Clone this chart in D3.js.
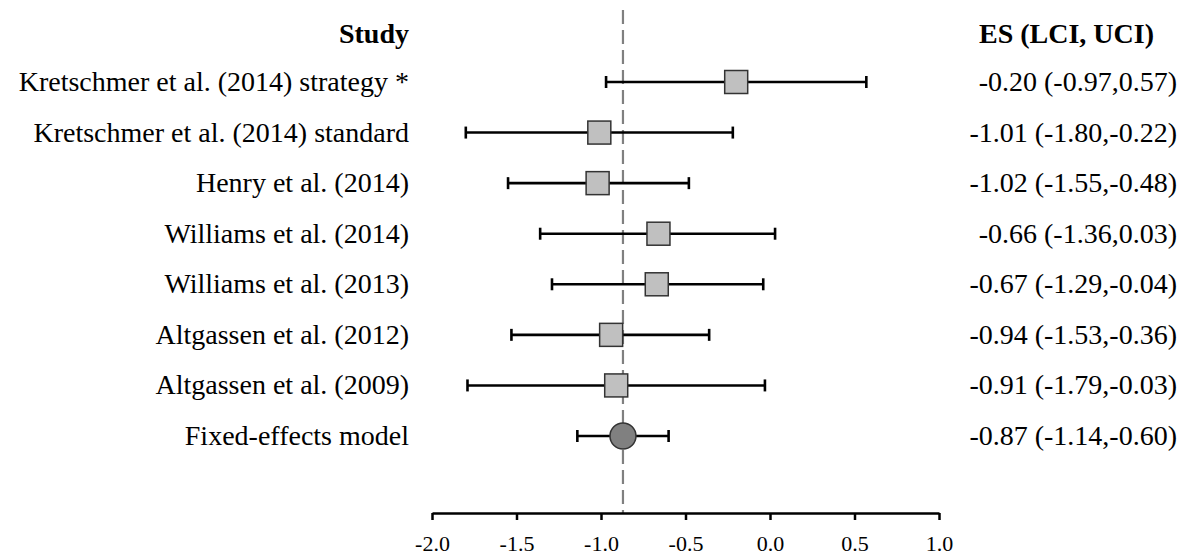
<!DOCTYPE html>
<html>
<head>
<meta charset="utf-8">
<script src="https://cdn.jsdelivr.net/npm/d3@7"></script>
<style>
  body { margin: 0; background: #fff; }
  svg { display: block; }
  text { font-family: "Liberation Serif", "Times New Roman", serif; fill: #000; }
</style>
</head>
<body>
<div id="chart"></div>
<script>
// data
const studies = [
    'Kretschmer et al. (2014) strategy *',
    'Kretschmer et al. (2014) standard',
    'Henry et al. (2014)',
    'Williams et al. (2014)',
    'Williams et al. (2013)',
    'Altgassen et al. (2012)',
    'Altgassen et al. (2009)',
    'Fixed-effects model'
];
const es = [-0.20, -1.01, -1.02, -0.66, -0.67, -0.94, -0.91, -0.87];
const lci = [-0.97, -1.80, -1.55, -1.36, -1.29, -1.53, -1.79, -1.14];
const uci = [0.57, -0.22, -0.48, 0.03, -0.04, -0.36, -0.03, -0.60];
const esLabels = [
    '-0.20 (-0.97,0.57)',
    '-1.01 (-1.80,-0.22)',
    '-1.02 (-1.55,-0.48)',
    '-0.66 (-1.36,0.03)',
    '-0.67 (-1.29,-0.04)',
    '-0.94 (-1.53,-0.36)',
    '-0.91 (-1.79,-0.03)',
    '-0.87 (-1.14,-0.60)'
];
const xTicks = [-2.0, -1.5, -1.0, -0.5, 0.0, 0.5, 1.0];
const pooledES = -0.87;

const width = 1182, height = 555;

const svg = d3.select('#chart')
    .append('svg')
    .attr('width', width)
    .attr('height', height);

const x = d3.scaleLinear().domain([-2, 1]).range([432, 939]);
const y = d3.scalePoint().domain(d3.range(studies.length)).range([82, 436]);
const axisY = 513;

// reference line at pooled estimate
svg.append('line')
    .attr('x1', x(pooledES)).attr('x2', x(pooledES))
    .attr('y1', 10).attr('y2', axisY)
    .attr('stroke', '#808080')
    .attr('stroke-width', 2.2)
    .attr('stroke-dasharray', '14,6');

// axis
const axis = d3.axisBottom(x)
    .tickValues(xTicks)
    .tickSize(7)
    .tickSizeOuter(0);
const gAxis = svg.append('g')
    .attr('transform', `translate(0,${axisY})`)
    .call(axis);
gAxis.select('.domain').attr('stroke', '#000').attr('stroke-width', 2.5);
gAxis.selectAll('.tick line').attr('stroke', '#000').attr('stroke-width', 2.5);
gAxis.selectAll('.tick text')
    .attr('y', 38)
    .attr('dy', null)
    .style('font-family', '"Liberation Serif", serif')
    .style('font-size', '22px')
    .attr('fill', '#000')
    .text((d) => d3.format('.1f')(d).replace('−', '-'));

// error bars
const rows = svg.append('g').selectAll('g')
    .data(studies.map((s, i) => i))
    .enter().append('g');

const barW = 2.6, cap = 6;
rows.append('line')
    .attr('x1', (i) => x(lci[i])).attr('x2', (i) => x(uci[i]))
    .attr('y1', (i) => y(i)).attr('y2', (i) => y(i))
    .attr('stroke', '#000').attr('stroke-width', barW);
rows.append('line')
    .attr('x1', (i) => x(lci[i])).attr('x2', (i) => x(lci[i]))
    .attr('y1', (i) => y(i) - cap).attr('y2', (i) => y(i) + cap)
    .attr('stroke', '#000').attr('stroke-width', barW);
rows.append('line')
    .attr('x1', (i) => x(uci[i])).attr('x2', (i) => x(uci[i]))
    .attr('y1', (i) => y(i) - cap).attr('y2', (i) => y(i) + cap)
    .attr('stroke', '#000').attr('stroke-width', barW);

// markers
const sq = 23;
rows.filter((i) => i < studies.length - 1)
    .append('rect')
    .attr('x', (i) => x(es[i]) - sq / 2)
    .attr('y', (i) => y(i) - sq / 2)
    .attr('width', sq).attr('height', sq)
    .attr('fill', '#c0c0c0')
    .attr('stroke', '#333').attr('stroke-width', 1.5);
rows.filter((i) => i === studies.length - 1)
    .append('circle')
    .attr('cx', (i) => x(es[i]))
    .attr('cy', (i) => y(i))
    .attr('r', 13)
    .attr('fill', '#808080')
    .attr('stroke', '#333').attr('stroke-width', 1.5);

// labels
rows.append('text')
    .attr('x', 409)
    .attr('y', (i) => y(i) + 9)
    .attr('text-anchor', 'end')
    .style('font-size', '28px')
    .text((i) => studies[i]);
rows.append('text')
    .attr('x', 1177)
    .attr('y', (i) => y(i) + 9)
    .attr('text-anchor', 'end')
    .style('font-size', '28px')
    .text((i) => esLabels[i]);

// headers
svg.append('text')
    .attr('x', 409).attr('y', 43)
    .attr('text-anchor', 'end')
    .style('font-size', '28px')
    .style('font-weight', 'bold')
    .text('Study');
svg.append('text')
    .attr('x', 1154).attr('y', 43)
    .attr('text-anchor', 'end')
    .style('font-size', '28px')
    .style('font-weight', 'bold')
    .text('ES (LCI, UCI)');
</script>
</body>
</html>
